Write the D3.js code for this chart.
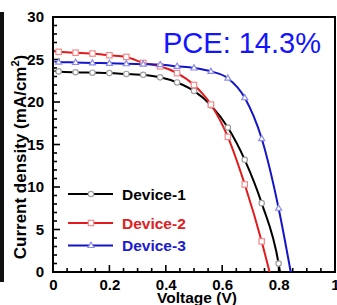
<!DOCTYPE html>
<html><head><meta charset="utf-8">
<script src="https://cdn.jsdelivr.net/npm/d3@7/dist/d3.min.js"></script>
<style>html,body{margin:0;padding:0;background:#fff;}svg{display:block;}</style>
</head><body>
<svg id="c" width="337" height="305"></svg>
<script>
const voltage = [0.02,0.08,0.14,0.20,0.26,0.32,0.38,0.44,0.50,0.56,0.62,0.68,0.74,0.80];
const device1 = [23.6,23.5,23.45,23.4,23.3,23.2,22.9,22.3,21.3,19.6,17.0,13.2,8.1,1.0];
const device2 = [25.9,25.8,25.7,25.5,25.3,24.6,24.2,23.4,22.0,19.7,15.9,10.3,3.6];
const device3 = [24.7,24.65,24.6,24.55,24.5,24.45,24.4,24.2,24.0,23.6,22.8,20.5,15.7,7.5];
const jsc = [23.65,25.95,24.75];
const voc = [0.805,0.768,0.843];
const seriesNames = ["Device-1","Device-2","Device-3"];
const lineColors = ["#000000","#e31a1c","#1515c8"];
const markerStroke = ["#a0a0a0","#f08a8a","#8a8ae8"];
const xTicks = [0,0.2,0.4,0.6,0.8,1];
const yTicks = [0,5,10,15,20,25,30];

const svg = d3.select("#c");
const L=53, R=335, T=17, B=272;
const x = d3.scaleLinear().domain([0,1]).range([L,R]);
const y = d3.scaleLinear().domain([0,30]).range([B,T]);

// left dark band
svg.append("rect").attr("x",0).attr("y",12).attr("width",4).attr("height",270).attr("fill","#111");

const font = "Arial, 'Liberation Sans', Helvetica, sans-serif";

// minor ticks
const g = svg.append("g");
d3.range(0,1.0001,0.05).forEach(v=>{
  const major = Math.abs(v*5-Math.round(v*5))<1e-6;
  g.append("line").attr("x1",x(v)).attr("x2",x(v)).attr("y1",B).attr("y2",B-(major?7:4)).attr("stroke","#000").attr("stroke-width",1.6);
});
d3.range(0,30.001,1).forEach(v=>{
  const major = v%5===0;
  g.append("line").attr("x1",L).attr("x2",L+(major?7:4)).attr("y1",y(v)).attr("y2",y(v)).attr("stroke","#000").attr("stroke-width",1.6);
});

// frame
svg.append("rect").attr("x",L).attr("y",T).attr("width",R-L).attr("height",B-T).attr("fill","none").attr("stroke","#000").attr("stroke-width",2);

// tick labels
svg.append("g").selectAll("text").data(yTicks).join("text")
  .attr("x",44).attr("y",d=>y(d)).attr("dy","0.36em").attr("text-anchor","end")
  .attr("font-family",font).attr("font-weight","bold").attr("font-size",15).text(d=>d);
svg.append("g").selectAll("text").data(xTicks).join("text")
  .attr("x",d=>x(d)+0.5).attr("y",290).attr("text-anchor","middle")
  .attr("font-family",font).attr("font-weight","bold").attr("font-size",15).text(d=>d);

// axis titles
svg.append("text").attr("x",197).attr("y",303).attr("text-anchor","middle")
  .attr("font-family",font).attr("font-weight","bold").attr("font-size",15.5).text("Voltage (V)");
const yl = svg.append("text").attr("transform","translate(26,157) rotate(-90)").attr("text-anchor","middle")
  .attr("font-family",font).attr("font-weight","bold").attr("font-size",17);
yl.append("tspan").text("Current density (mA/cm");
yl.append("tspan").attr("font-size",11).attr("dy","-7").text("2");
yl.append("tspan").attr("dy","7").text(")");

// curves
const data = [device1,device2,device3];
const line = d3.line().x(d=>x(d[0])).y(d=>y(d[1])).curve(d3.curveMonotoneX);
const plot = svg.append("g");
data.forEach((arr,i)=>{
  const pts = [[0.005,jsc[i]]].concat(arr.map((v,k)=>[voltage[k],v])).concat([[voc[i],0]]);
  plot.append("path").attr("d",line(pts)).attr("fill","none").attr("stroke",lineColors[i]).attr("stroke-width",2);
});
function marker(sel,i,cx,cy){
  if(i===0){
    sel.append("circle").attr("cx",cx).attr("cy",cy).attr("r",2.7).attr("fill","#fff").attr("stroke",markerStroke[i]).attr("stroke-width",1.2);
  } else if(i===1){
    sel.append("rect").attr("x",cx-2.7).attr("y",cy-2.7).attr("width",5.4).attr("height",5.4).attr("fill","#fff").attr("stroke",markerStroke[i]).attr("stroke-width",1.2);
  } else {
    sel.append("path").attr("d",`M${cx},${cy-3.2}L${cx+3},${cy+2}L${cx-3},${cy+2}Z`).attr("fill","#fff").attr("stroke",markerStroke[i]).attr("stroke-width",1.2);
  }
}
data.forEach((arr,i)=>{
  arr.forEach((v,k)=>marker(plot,i,x(voltage[k]),y(v)));
});

// legend
const legY = [194,223,245.5];
const legText = ["#000","#e02020","#1a1ad0"];
seriesNames.forEach((n,i)=>{
  svg.append("line").attr("x1",68).attr("x2",113).attr("y1",legY[i]).attr("y2",legY[i]).attr("stroke",lineColors[i]).attr("stroke-width",2);
  marker(svg,i,91,legY[i]);
  svg.append("text").attr("x",122).attr("y",legY[i]).attr("dy","0.36em")
    .attr("font-family",font).attr("font-weight","bold").attr("font-size",15.5).attr("fill",legText[i]).text(n);
});

// PCE annotation
svg.append("text").attr("x",163).attr("y",53).attr("font-family",font).attr("font-size",29).attr("fill","#1414ff").text("PCE: 14.3%");
</script>
</body></html>
